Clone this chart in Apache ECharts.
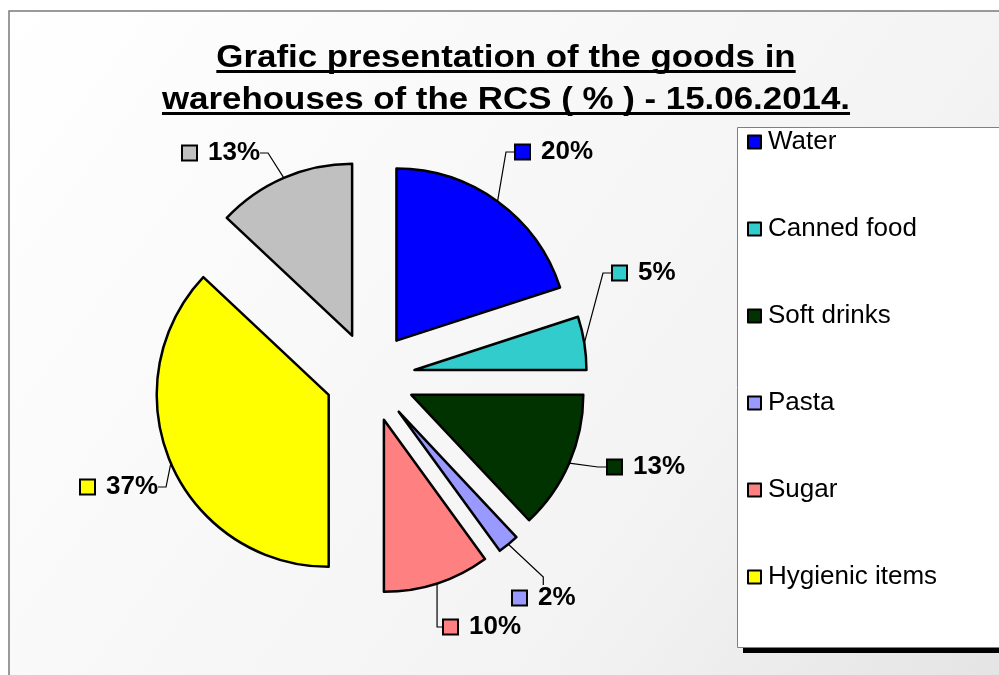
<!DOCTYPE html>
<html>
<head>
<meta charset="utf-8">
<script src="https://cdn.jsdelivr.net/npm/echarts@6/dist/echarts.min.js"></script>
<style>
  html, body { margin: 0; padding: 0; background: #fff; }
  #chart { width: 999px; height: 675px; }
</style>
</head>
<body>
<div id="chart"></div>
<script>
// Data
var categories = ['Water', 'Canned food', 'Soft drinks', 'Pasta', 'Sugar', 'Hygienic items', 'Other'];
var shares = [20, 5, 13, 2, 10, 37, 13];
var colors = ['#0000ff', '#33cccc', '#003300', '#9999ff', '#ff8080', '#ffff00', '#c0c0c0'];
var legendNames = ['Water', 'Canned food', 'Soft drinks', 'Pasta', 'Sugar', 'Hygienic items'];
var titleLines = ['Grafic presentation of the goods in', 'warehouses of the RCS ( % ) - 15.06.2014.'];

// where the data labels sit (left edge of the key square, vertical middle)
var labelSpots = [[516, 152], [613, 273], [608, 467], [513, 598], [444, 627], [81, 487], [183, 153]];

var fontFam = 'Liberation Sans, Arial, sans-serif';
var titleFont = 'bold 31px ' + fontFam;
var titleStretch = 1.125;

var pieCenter = [370, 377];
var pieRadius = 172;
var explode = 45;

// measure title lines for the underline
var ctx = document.createElement('canvas').getContext('2d');
ctx.font = titleFont;

var titleCx = 506;
var titleMid = [58, 100];
var titleGraphics = [];
titleLines.forEach(function (t, i) {
    var w = ctx.measureText(t).width * titleStretch;
    titleGraphics.push({
        type: 'text',
        x: titleCx,
        y: titleMid[i],
        scaleX: titleStretch,
        style: {
            text: t,
            font: titleFont,
            fill: '#000',
            align: 'center',
            verticalAlign: 'middle'
        },
        z: 10
    });
    titleGraphics.push({
        type: 'rect',
        shape: { x: titleCx - w / 2, y: titleMid[i] + 12, width: w, height: 3 },
        style: { fill: '#000' },
        z: 10
    });
});

// one pie per slice so every slice can be pulled out along its own bisector
var total = shares.reduce(function (a, b) { return a + b; }, 0);
var cum = 0;
var pieSeries = categories.map(function (name, i) {
    var mid = (cum + shares[i] / 2) / total * 2 * Math.PI;
    cum += shares[i];
    return {
        type: 'pie',
        center: [pieCenter[0] + explode * Math.sin(mid), pieCenter[1] - explode * Math.cos(mid)],
        radius: pieRadius,
        startAngle: 90,
        clockwise: true,
        silent: true,
        avoidLabelOverlap: false,
        labelLine: {
            length: 10,
            length2: 8,
            lineStyle: { color: '#000', width: 1.2 }
        },
        labelLayout: function (params) {
            var s = labelSpots[params.dataIndex];
            return { x: s[0], y: s[1], align: 'left', verticalAlign: 'middle' };
        },
        data: categories.map(function (n, j) {
            if (j !== i) {
                return {
                    name: n,
                    value: shares[j],
                    itemStyle: { color: 'rgba(0,0,0,0)', borderWidth: 0 },
                    label: { show: false },
                    labelLine: { show: false }
                };
            }
            return {
                name: n,
                value: shares[j],
                itemStyle: { color: colors[j], borderColor: '#000', borderWidth: 2.5 },
                label: {
                    show: true,
                    position: 'outside',
                    formatter: '{sq|}{v|' + shares[j] + '%}',
                    rich: {
                        sq: {
                            width: 13,
                            height: 13,
                            backgroundColor: colors[j],
                            borderColor: '#000',
                            borderWidth: 2
                        },
                        v: {
                            fontSize: 26,
                            lineHeight: 26,
                            fontWeight: 'bold',
                            fontFamily: fontFam,
                            color: '#000',
                            padding: [0, 0, 0, 12]
                        }
                    }
                },
                labelLine: { show: true }
            };
        })
    };
});

var chart = echarts.init(document.getElementById('chart'));

chart.setOption({
    animation: false,
    graphic: [
        // chart area
        {
            type: 'rect',
            shape: { x: 9, y: 11, width: 1200, height: 900 },
            style: {
                fill: new echarts.graphic.LinearGradient(0, 0, 1, 1, [
                    { offset: 0, color: '#ffffff' },
                    { offset: 0.55, color: '#f3f3f3' },
                    { offset: 1, color: '#d8d8d8' }
                ]),
                stroke: '#7a7a7a',
                lineWidth: 1.5
            },
            z: -10
        },
        // legend shadow + box
        {
            type: 'rect',
            shape: { x: 743, y: 133, width: 400, height: 520 },
            style: { fill: '#000' },
            z: -5
        },
        {
            type: 'rect',
            shape: { x: 737.5, y: 127.5, width: 400, height: 520 },
            style: { fill: '#fff', stroke: '#808080', lineWidth: 1 },
            z: -4
        }
    ].concat(titleGraphics),
    legend: {
        data: legendNames.map(function (n) {
            return { name: n, itemStyle: { color: colors[categories.indexOf(n)] } };
        }),
        orient: 'vertical',
        left: 737,
        top: 129,
        padding: [0, 0, 0, 10],
        itemGap: 61,
        itemWidth: 13,
        itemHeight: 13,
        icon: 'rect',
        selectedMode: false,
        itemStyle: { borderColor: '#000', borderWidth: 2 },
        textStyle: {
            fontSize: 26,
            lineHeight: 26,
            color: '#000',
            fontFamily: fontFam,
            padding: [0, 0, 0, 2]
        }
    },
    series: pieSeries
});
</script>
</body>
</html>
